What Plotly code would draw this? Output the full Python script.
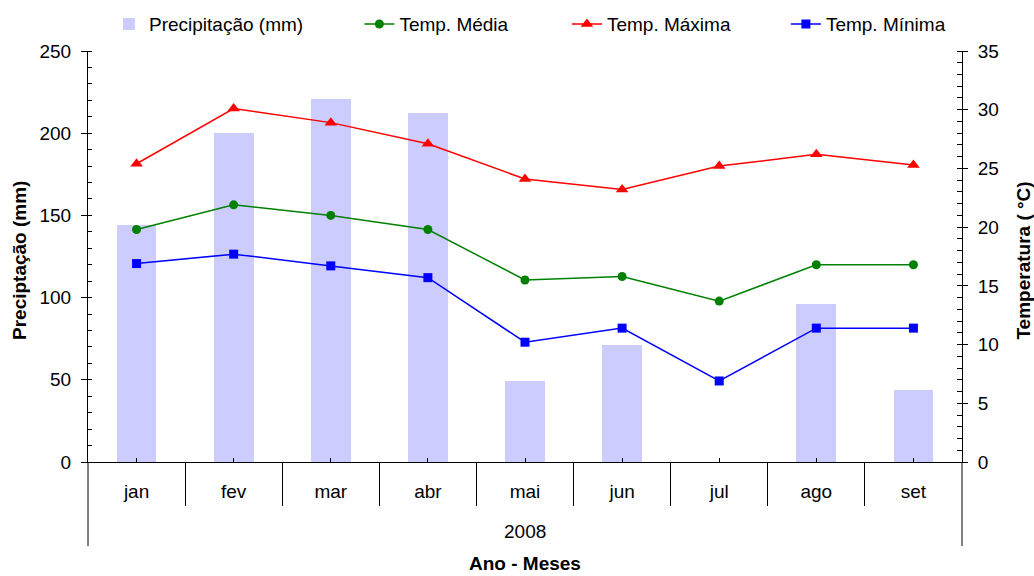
import plotly.graph_objects as go

months = ["jan", "fev", "mar", "abr", "mai", "jun", "jul", "ago", "set"]
precip = [144, 200, 221, 212, 49, 71, 0, 96, 44]
t_media = [19.8, 21.9, 21.0, 19.8, 15.5, 15.8, 13.7, 16.8, 16.8]
t_max = [25.4, 30.1, 28.9, 27.1, 24.1, 23.2, 25.2, 26.2, 25.3]
t_min = [16.9, 17.7, 16.7, 15.7, 10.2, 11.4, 6.9, 11.4, 11.4]
boundaries = [0.5, 1.5, 2.5, 3.5, 4.5, 5.5, 6.5, 7.5]

FONT = "Liberation Sans, Arial, Helvetica, sans-serif"
FS = 19

fig = go.Figure()
fig.add_trace(go.Bar(x=months, y=precip, name="Precipitação (mm)", width=0.41,
                     marker=dict(color="#CCCCFF", line=dict(width=0)),
                     yaxis="y", legend="legend", showlegend=True))
fig.add_trace(go.Scatter(x=months, y=t_media, name="Temp. Média", mode="lines+markers",
                         line=dict(color="#008000", width=1.5),
                         marker=dict(symbol="circle", size=9, color="#008000"),
                         yaxis="y2", legend="legend2", showlegend=True))
fig.add_trace(go.Scatter(x=months, y=t_max, name="Temp. Máxima", mode="lines+markers",
                         line=dict(color="#FF0000", width=1.5),
                         marker=dict(symbol="triangle-up", size=11, color="#FF0000"),
                         yaxis="y2", legend="legend3", showlegend=True))
fig.add_trace(go.Scatter(x=months, y=t_min, name="Temp. Mínima", mode="lines+markers",
                         line=dict(color="#0000FF", width=1.5),
                         marker=dict(symbol="square", size=9, color="#0000FF"),
                         yaxis="y2", legend="legend4", showlegend=True))
# invisible helper so the category-divider axis is drawn
fig.add_trace(go.Scatter(x=boundaries, y=[0] * len(boundaries), xaxis="x2", yaxis="y",
                         mode="none", showlegend=False, hoverinfo="skip"))

axis_common = dict(showgrid=False, zeroline=False, linecolor="#000000", linewidth=1,
                   tickcolor="#000000", tickfont=dict(family=FONT, size=FS, color="#000000"))

legend_common = dict(orientation="h", yref="container", y=0.958, yanchor="middle",
                     xanchor="left", bgcolor="rgba(0,0,0,0)",
                     font=dict(family=FONT, size=FS, color="#000000"))

fig.update_layout(
    width=1034, height=576,
    margin=dict(l=88, r=72, t=51, b=114, autoexpand=False),
    paper_bgcolor="white", plot_bgcolor="white",
    font=dict(family=FONT, size=FS, color="#000000"),
    showlegend=True,
    bargap=0,
    xaxis=dict(type="category", categoryorder="array", categoryarray=months,
               range=[-0.5, 8.5], showline=True, ticks="inside", ticklen=4,
               ticklabelstandoff=12, **axis_common),
    xaxis2=dict(type="linear", overlaying="x", anchor="y", side="bottom",
                range=[-0.5, 8.5], tickmode="array", tickvals=boundaries,
                ticks="outside", ticklen=43, tickcolor="#000000", showticklabels=False,
                showline=False, showgrid=False, zeroline=False),
    yaxis=dict(range=[0, 250], dtick=50, showline=True, ticks="outside", ticklen=6,
               ticklabelstandoff=6,
               minor=dict(dtick=10, ticks="inside", ticklen=4, tickcolor="#000000"),
               **axis_common),
    yaxis2=dict(range=[0, 35], dtick=5, overlaying="y", side="right", anchor="x",
                showline=True, ticks="outside", ticklen=5, ticklabelstandoff=6,
                minor=dict(dtick=1, ticks="inside", ticklen=5, tickcolor="#000000"),
                **axis_common),
    legend=dict(x=0.024, **legend_common),
    legend2=dict(x=0.3105, **legend_common),
    legend3=dict(x=0.548, **legend_common),
    legend4=dict(x=0.7985, **legend_common),
    shapes=[
        dict(type="line", xref="paper", yref="paper", x0=0, x1=0, y0=0, y1=-0.2044,
             line=dict(color="#000000", width=1)),
        dict(type="line", xref="paper", yref="paper", x0=1, x1=1, y0=0, y1=-0.2044,
             line=dict(color="#000000", width=1)),
    ],
    annotations=[
        dict(text="2008", xref="paper", yref="paper", x=0.5, y=-0.170,
             showarrow=False, yanchor="middle", font=dict(family=FONT, size=FS)),
        dict(text="<b>Ano - Meses</b>", xref="paper", yref="paper", x=0.5, y=-0.247,
             showarrow=False, yanchor="middle", font=dict(family=FONT, size=FS)),
        dict(text="<b>Preciptação (mm)</b>", xref="paper", yref="paper", x=-0.0785, y=0.49,
             xanchor="center", yanchor="middle", textangle=-90, showarrow=False,
             font=dict(family=FONT, size=FS)),
        dict(text="<b>Temperatura ( °C)</b>", xref="paper", yref="paper", x=1.0709, y=0.49,
             xanchor="center", yanchor="middle", textangle=-90, showarrow=False,
             font=dict(family=FONT, size=FS)),
    ],
)

fig.write_html("out.html")
